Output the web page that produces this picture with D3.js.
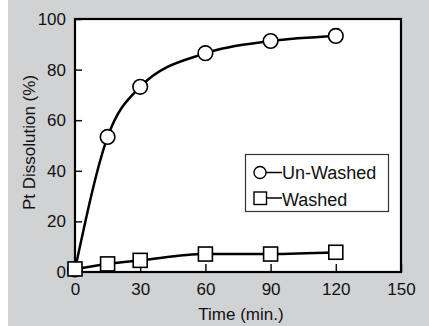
<!DOCTYPE html>
<html>
<head>
<meta charset="utf-8">
<script src="https://cdn.jsdelivr.net/npm/d3@7"></script>
<style>
  html, body { margin: 0; padding: 0; background: #fff; }
  svg { display: block; }
  text { font-family: "Liberation Sans", Arial, Helvetica, sans-serif; fill: #111; }
</style>
</head>
<body>
<svg id="chart" width="429" height="326"></svg>
<script>
// ---- data ----
const times = [0, 15, 30, 60, 90, 120];
const unWashed = [1, 53.4, 73.2, 86.5, 91.3, 93.3];
const washed = [1.2, 3.2, 4.6, 7.1, 7.1, 7.8];
const xTicks = [0, 30, 60, 90, 120, 150];
const yTicks = [0, 20, 40, 60, 80, 100];
const seriesNames = ["Un-Washed", "Washed"];
const xTitle = "Time (min.)";
const yTitle = "Pt Dissolution (%)";

const W = 429, H = 326;
const m = { left: 75, top: 19, right: 401, bottom: 272 };

const svg = d3.select("#chart");

// background panel
svg.append("rect").attr("x", 8).attr("y", 0).attr("width", W - 8).attr("height", H)
  .attr("fill", "#d1d2d4");

const x = d3.scaleLinear().domain([0, 150]).range([m.left, m.right]);
const y = d3.scaleLinear().domain([0, 100]).range([m.bottom, m.top]);

// plot area
svg.append("rect").attr("x", m.left).attr("y", m.top)
  .attr("width", m.right - m.left).attr("height", m.bottom - m.top)
  .attr("fill", "#fff");

// axes
const xAxis = d3.axisBottom(x).tickValues(xTicks).tickSize(-8).tickPadding(11)
  .tickFormat(d3.format("d"));
const yAxis = d3.axisLeft(y).tickValues(yTicks).tickSize(-7).tickPadding(9)
  .tickFormat(d3.format("d"));

const gx = svg.append("g").attr("transform", `translate(0,${m.bottom})`).call(xAxis);
const gy = svg.append("g").attr("transform", `translate(${m.left},0)`).call(yAxis);
[gx, gy].forEach(g => {
  g.select(".domain").remove();
  g.selectAll(".tick line").attr("stroke", "#111").attr("stroke-width", 1.5);
  g.selectAll(".tick text").attr("font-size", 17)
    .style("font-family", "'Liberation Sans', Arial, sans-serif").attr("fill", "#111");
});

// frame
svg.append("rect").attr("x", m.left).attr("y", m.top)
  .attr("width", m.right - m.left).attr("height", m.bottom - m.top)
  .attr("fill", "none").attr("stroke", "#000").attr("stroke-width", 2.2);

// axis titles
svg.append("text").attr("x", (m.left + m.right) / 2 + 3).attr("y", 320)
  .attr("text-anchor", "middle").attr("font-size", 17).text(xTitle);
svg.append("text").attr("transform", `translate(35,${142.5}) rotate(-90)`)
  .attr("text-anchor", "middle").attr("font-size", 17).text(yTitle);

// lines
const line = d3.line().x(d => x(d[0])).y(d => y(d[1])).curve(d3.curveMonotoneX);
const unData = times.map((t, i) => [t, unWashed[i]]);
const waData = times.map((t, i) => [t, washed[i]]);

svg.append("path").datum(unData).attr("d", line)
  .attr("fill", "none").attr("stroke", "#000").attr("stroke-width", 2.5);
svg.append("path").datum(waData).attr("d", line)
  .attr("fill", "none").attr("stroke", "#000").attr("stroke-width", 2.5);

// markers
svg.append("g").selectAll("circle").data(unData).join("circle")
  .attr("cx", d => x(d[0])).attr("cy", d => y(d[1])).attr("r", 7.3)
  .attr("fill", "#fff").attr("stroke", "#000").attr("stroke-width", 1.6);
const sq = 14;
svg.append("g").selectAll("rect").data(waData).join("rect")
  .attr("x", d => x(d[0]) - sq / 2).attr("y", d => y(d[1]) - sq / 2)
  .attr("width", sq).attr("height", sq)
  .attr("fill", "#fff").attr("stroke", "#000").attr("stroke-width", 1.6);

// legend
const lg = svg.append("g");
lg.append("rect").attr("x", 245.5).attr("y", 154.5).attr("width", 143).attr("height", 57)
  .attr("fill", "#fff").attr("stroke", "#333").attr("stroke-width", 1.2);
// Un-Washed entry
lg.append("line").attr("x1", 266).attr("x2", 282).attr("y1", 172.5).attr("y2", 172.5)
  .attr("stroke", "#000").attr("stroke-width", 1.5);
lg.append("circle").attr("cx", 260).attr("cy", 172.5).attr("r", 6)
  .attr("fill", "#fff").attr("stroke", "#000").attr("stroke-width", 1.4);
lg.append("text").attr("x", 282).attr("y", 179).attr("font-size", 18).text(seriesNames[0]);
// Washed entry
lg.append("line").attr("x1", 266).attr("x2", 282).attr("y1", 198).attr("y2", 198)
  .attr("stroke", "#000").attr("stroke-width", 1.5);
lg.append("rect").attr("x", 254).attr("y", 192).attr("width", 12.5).attr("height", 12.5)
  .attr("fill", "#fff").attr("stroke", "#000").attr("stroke-width", 1.4);
lg.append("text").attr("x", 282).attr("y", 206).attr("font-size", 18).text(seriesNames[1]);
</script>
</body>
</html>
